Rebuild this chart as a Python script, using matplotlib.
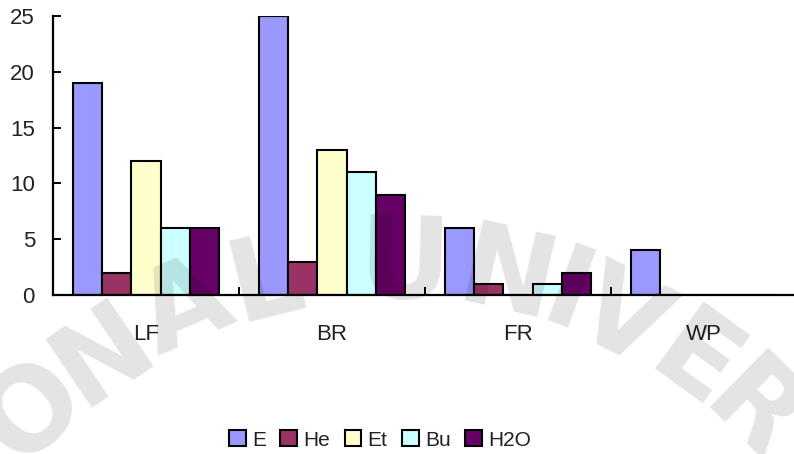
import numpy as np
import matplotlib
matplotlib.use("Agg")
from matplotlib import pyplot as plt

plt.rcParams['font.family'] = ['Liberation Sans', 'DejaVu Sans']

# counts per plant part and extract solvent
parts = ["LF", "BR", "FR", "WP"]
solvents = ["E", "He", "Et", "Bu", "H2O"]
vals_E = [19, 25, 6, 4]
vals_He = [2, 3, 1, 0]
vals_Et = [12, 13, 0, 0]
vals_Bu = [6, 11, 1, 0]
vals_H2O = [6, 9, 2, 0]
colors = ["#9999FF", "#993366", "#FFFFCC", "#CCFFFF", "#660066"]

series = [vals_E, vals_He, vals_Et, vals_Bu, vals_H2O]

fig = plt.figure(figsize=(7.94, 4.54), dpi=100)
ax = fig.add_axes([53/794, 159/454, 744/794, 279/454])

x = np.arange(len(parts))
bw = 0.156
handles = []
for i, (name, v) in enumerate(zip(solvents, series)):
    b = ax.bar(x + (i - 2) * bw, v, width=bw, color=colors[i],
               edgecolor="black", linewidth=1.5, label=name, zorder=2)
    handles.append(b)

ax.set_xlim(-0.5, len(parts) - 0.5)
ax.set_ylim(0, 25)
ax.set_yticks(range(0, 26, 5))

# group separators as major ticks, names as minor ticks
ax.set_xticks(x[:-1] + 0.5)
ax.set_xticklabels([])
ax.set_xticks(x, minor=True)
ax.set_xticklabels(parts, minor=True, fontsize=16, color="#222222")
ax.tick_params(axis="x", which="major", direction="in", length=6, width=1.4)
ax.tick_params(axis="x", which="minor", length=0, pad=21)
ax.tick_params(axis="y", direction="in", length=6, width=1.4, pad=13,
               labelsize=16, labelcolor="#222222")

for s in ["top", "right"]:
    ax.spines[s].set_visible(False)
for s in ["left", "bottom"]:
    ax.spines[s].set_linewidth(1.6)

fig.legend(handles=handles, labels=solvents, loc="center",
           bbox_to_anchor=(380/794, 1 - 440/454), ncol=5, frameon=False,
           fontsize=15, handlelength=0.8, handleheight=0.8,
           handletextpad=0.3, columnspacing=0.7, labelcolor="#222222")

# faint arched watermark lettering over the plot
cx, cy, r = 391, 782, 515
letters = ["O", "N", "A", "L", "U", "N", "I", "V", "E", "R"]
angles = [134, 124, 113.5, 104, 88.5, 77, 70, 63.5, 54, 45.5]
for ch, a in zip(letters, angles):
    t = np.deg2rad(a)
    px = cx + r * np.cos(t)
    py = cy - r * np.sin(t)
    fig.text(px / 794, 1 - py / 454, ch, fontsize=82, fontweight="semibold",
             family="DejaVu Sans", color="black", alpha=0.11,
             rotation=a - 90, ha="center", va="center",
             rotation_mode="anchor", zorder=10)

fig.savefig("out.png", dpi=100)
